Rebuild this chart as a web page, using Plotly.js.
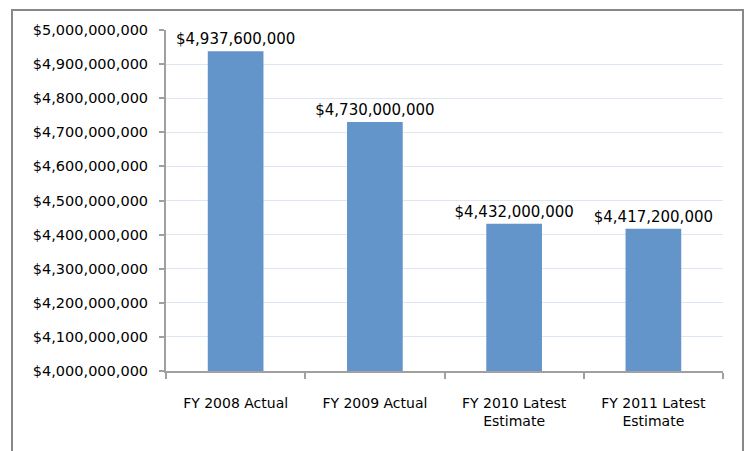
<!DOCTYPE html>
<html><head><meta charset="utf-8">
<script src="https://cdn.plot.ly/plotly-3.0.1.min.js"></script>
<style>html,body{margin:0;padding:0;background:#fff;}</style>
</head><body>
<div id="chart" style="width:750px;height:451px;"></div>
<script>
const categories = ["FY 2008 Actual", "FY 2009 Actual", "FY 2010 Latest<br>Estimate", "FY 2011 Latest<br>Estimate"];
const values = [4937600000, 4730000000, 4432000000, 4417200000];
const valueLabels = values.map(v => "$" + v.toLocaleString("en-US"));
const tickVals = [4000000000,4100000000,4200000000,4300000000,4400000000,4500000000,4600000000,4700000000,4800000000,4900000000,5000000000];
const tickText = tickVals.map(v => "$" + v.toLocaleString("en-US"));

const fontFam = "DejaVu Sans, sans-serif";
const trace = {
  type: "bar",
  x: categories,
  y: values,
  marker: {color: "#6395cb"},
  width: 0.4,
  text: valueLabels,
  textposition: "outside",
  constraintext: "none",
  textangle: 0,
  textfont: {family: fontFam, size: 15, color: "#000"},
  cliponaxis: false,
  hoverinfo: "none"
};
const layout = {
  width: 750, height: 451,
  margin: {l: 166, r: 27, t: 30, b: 80},
  paper_bgcolor: "#fff", plot_bgcolor: "#fff",
  showlegend: false,
  font: {family: fontFam, color: "#000"},
  xaxis: {
    type: "category",
    showline: true, linecolor: "#a0a0a0", linewidth: 2,
    ticks: "outside", tickson: "boundaries", ticklen: 6, tickcolor: "#a0a0a0", tickwidth: 2,
    tickfont: {family: fontFam, size: 14, color: "#000"},
    ticklabelstandoff: 18,
    showgrid: false, zeroline: false
  },
  yaxis: {
    range: [4000000000, 5000000000],
    tickvals: tickVals, ticktext: tickText,
    showline: true, linecolor: "#a0a0a0", linewidth: 2,
    ticks: "outside", ticklen: 5, tickcolor: "#a0a0a0", tickwidth: 2,
    tickfont: {family: fontFam, size: 14.5, color: "#000"},
    ticklabelstandoff: 8,
    showgrid: true, gridcolor: "#dce6f2", gridwidth: 1,
    zeroline: false
  },
  shapes: [{
    type: "rect", xref: "paper", yref: "paper",
    x0: (12-166)/557, x1: (743-166)/557,
    y0: (371-470)/341, y1: (371-10)/341,
    line: {color: "#888888", width: 2}, fillcolor: "rgba(0,0,0,0)", layer: "below"
  }]
};
Plotly.newPlot("chart", [trace], layout, {displayModeBar: false, staticPlot: true});
</script>
</body></html>
